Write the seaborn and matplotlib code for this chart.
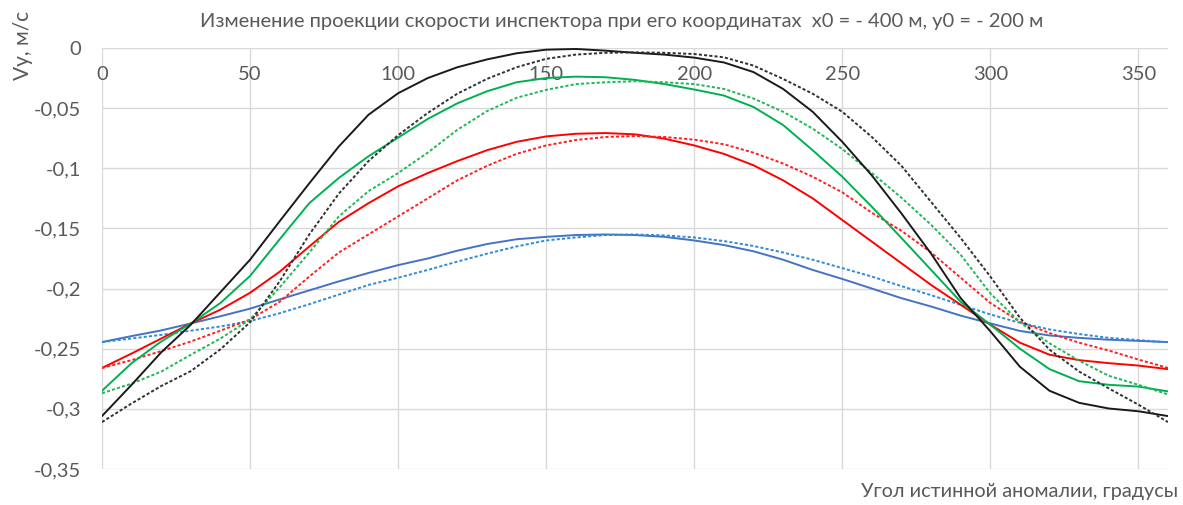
import numpy as np
import pandas as pd
import matplotlib
matplotlib.use("Agg")
import matplotlib.pyplot as plt
import seaborn as sns

# True anomaly, degrees
theta = list(range(0, 361, 10))

# Vy, m/s — solid and dotted variants for each of the four cases
blue_solid = [-0.2445, -0.2395, -0.2348, -0.229, -0.223, -0.2167, -0.209, -0.2015, -0.194, -0.187,
              -0.1805, -0.175, -0.1685, -0.163, -0.159, -0.157, -0.1555, -0.155, -0.1555, -0.157,
              -0.160, -0.1638, -0.169, -0.176, -0.1845, -0.192, -0.200, -0.208, -0.2149, -0.2225,
              -0.229, -0.2352, -0.239, -0.241, -0.2425, -0.2435, -0.2445]
blue_dotted = [-0.2445, -0.2415, -0.2385, -0.235, -0.2315, -0.227, -0.2205, -0.213, -0.205, -0.197,
               -0.191, -0.1845, -0.1776, -0.171, -0.165, -0.160, -0.1575, -0.1555, -0.155, -0.1558,
               -0.1575, -0.1605, -0.1646, -0.170, -0.176, -0.183, -0.190, -0.198, -0.2055, -0.2135,
               -0.2215, -0.2285, -0.234, -0.2378, -0.241, -0.2428, -0.2447]
red_solid = [-0.266, -0.254, -0.2415, -0.229, -0.2175, -0.2035, -0.186, -0.165, -0.1445, -0.129,
             -0.115, -0.104, -0.094, -0.085, -0.078, -0.0735, -0.0713, -0.0707, -0.0718, -0.0754,
             -0.081, -0.088, -0.0975, -0.110, -0.125, -0.143, -0.161, -0.179, -0.197, -0.2135,
             -0.230, -0.245, -0.255, -0.2595, -0.262, -0.264, -0.267]
red_dotted = [-0.266, -0.2595, -0.252, -0.244, -0.235, -0.2257, -0.211, -0.190, -0.170, -0.155,
              -0.140, -0.125, -0.110, -0.098, -0.088, -0.081, -0.0765, -0.074, -0.0732, -0.074,
              -0.0762, -0.080, -0.087, -0.096, -0.107, -0.120, -0.137, -0.152, -0.170, -0.191,
              -0.212, -0.2275, -0.237, -0.245, -0.2515, -0.259, -0.266]
green_solid = [-0.285, -0.262, -0.244, -0.229, -0.212, -0.1895, -0.159, -0.129, -0.108, -0.090,
               -0.0745, -0.059, -0.046, -0.036, -0.0285, -0.025, -0.0238, -0.0243, -0.0265, -0.030,
               -0.0345, -0.0395, -0.049, -0.064, -0.085, -0.107, -0.132, -0.158, -0.1845, -0.211,
               -0.230, -0.250, -0.267, -0.277, -0.280, -0.2815, -0.2855]
green_dotted = [-0.287, -0.279, -0.269, -0.255, -0.2415, -0.2257, -0.199, -0.170, -0.140, -0.119,
                -0.104, -0.087, -0.068, -0.0525, -0.0414, -0.0348, -0.030, -0.0285, -0.0276, -0.0285,
                -0.030, -0.034, -0.042, -0.053, -0.067, -0.084, -0.104, -0.1245, -0.147, -0.172,
                -0.204, -0.228, -0.2455, -0.260, -0.2725, -0.280, -0.288]
black_solid = [-0.306, -0.280, -0.253, -0.230, -0.203, -0.176, -0.144, -0.1125, -0.0818, -0.0555,
               -0.0376, -0.025, -0.016, -0.0095, -0.0044, -0.0014, -0.0008, -0.0022, -0.004, -0.0055,
               -0.008, -0.012, -0.020, -0.034, -0.053, -0.078, -0.106, -0.1376, -0.171, -0.208,
               -0.2355, -0.265, -0.285, -0.295, -0.2997, -0.302, -0.306]
black_dotted = [-0.311, -0.2955, -0.281, -0.2686, -0.2505, -0.228, -0.194, -0.155, -0.121, -0.094,
                -0.0725, -0.054, -0.038, -0.0257, -0.016, -0.009, -0.0055, -0.004, -0.0036, -0.004,
                -0.005, -0.0077, -0.0146, -0.0257, -0.038, -0.053, -0.074, -0.098, -0.128, -0.158,
                -0.190, -0.2243, -0.2508, -0.269, -0.283, -0.2965, -0.311]

x_ticks = [0, 50, 100, 150, 200, 250, 300, 350]
y_ticks = [0, -0.05, -0.1, -0.15, -0.2, -0.25, -0.3, -0.35]
y_tick_labels = ["0", "-0,05", "-0,1", "-0,15", "-0,2", "-0,25", "-0,3", "-0,35"]

title = "Изменение проекции скорости инспектора при его координатах  x0 = - 400 м, y0 = - 200 м"
x_label = "Угол истинной аномалии, градусы"
y_label = "Vy, м/с"

sns.set_theme(style="white")
plt.rcParams["font.family"] = ["Lato", "DejaVu Sans"]

TEXT = "#595959"
GRID = "#D9D9D9"
DOT = (0, (1.6, 1.1))

fig = plt.figure(figsize=(11.83, 5.05), dpi=100)
ax = fig.add_axes([102 / 1183, 1 - 469 / 505, (1168 - 102) / 1183, (469 - 48) / 505])

series = [
    (blue_solid, "#4472C4", "-"),
    (blue_dotted, "#2E8BDB", DOT),
    (red_solid, "#FF0000", "-"),
    (red_dotted, "#FF2020", DOT),
    (green_solid, "#00B050", "-"),
    (green_dotted, "#1DB954", DOT),
    (black_solid, "#1A1A1A", "-"),
    (black_dotted, "#303030", DOT),
]
for values, color, ls in series:
    df = pd.DataFrame({"theta": theta, "vy": values})
    sns.lineplot(data=df, x="theta", y="vy", color=color, linestyle=ls,
                 linewidth=1.4, ax=ax, zorder=3)

ax.set_xlim(0, 360)
ax.set_ylim(-0.35, 0)
ax.set_xticks(x_ticks)
ax.set_yticks(y_ticks)
ax.set_yticklabels(y_tick_labels)
ax.set_xlabel("")
ax.set_ylabel("")

ax.grid(True, color=GRID, linewidth=1.0, zorder=0)
for side in ["top", "right", "bottom", "left"]:
    ax.spines[side].set_visible(False)

# x tick labels sit just under the zero line, inside the plot
ax.xaxis.tick_top()
ax.tick_params(axis="x", length=0, pad=-25, labelsize=14.5, labelcolor=TEXT)
ax.tick_params(axis="y", length=0, pad=15, labelsize=14.5, labelcolor=TEXT)

fig.text(622 / 1183, 1 - 21 / 505, title, ha="center", va="center",
         fontsize=14.5, color=TEXT)
fig.text(1178 / 1183, 1 - 492 / 505, x_label, ha="right", va="center",
         fontsize=14.3, color=TEXT)
fig.text(23 / 1183, 1 - 45 / 505, y_label, ha="center", va="center",
         rotation=90, fontsize=15, color=TEXT)

fig.savefig("out.png", dpi=100)
